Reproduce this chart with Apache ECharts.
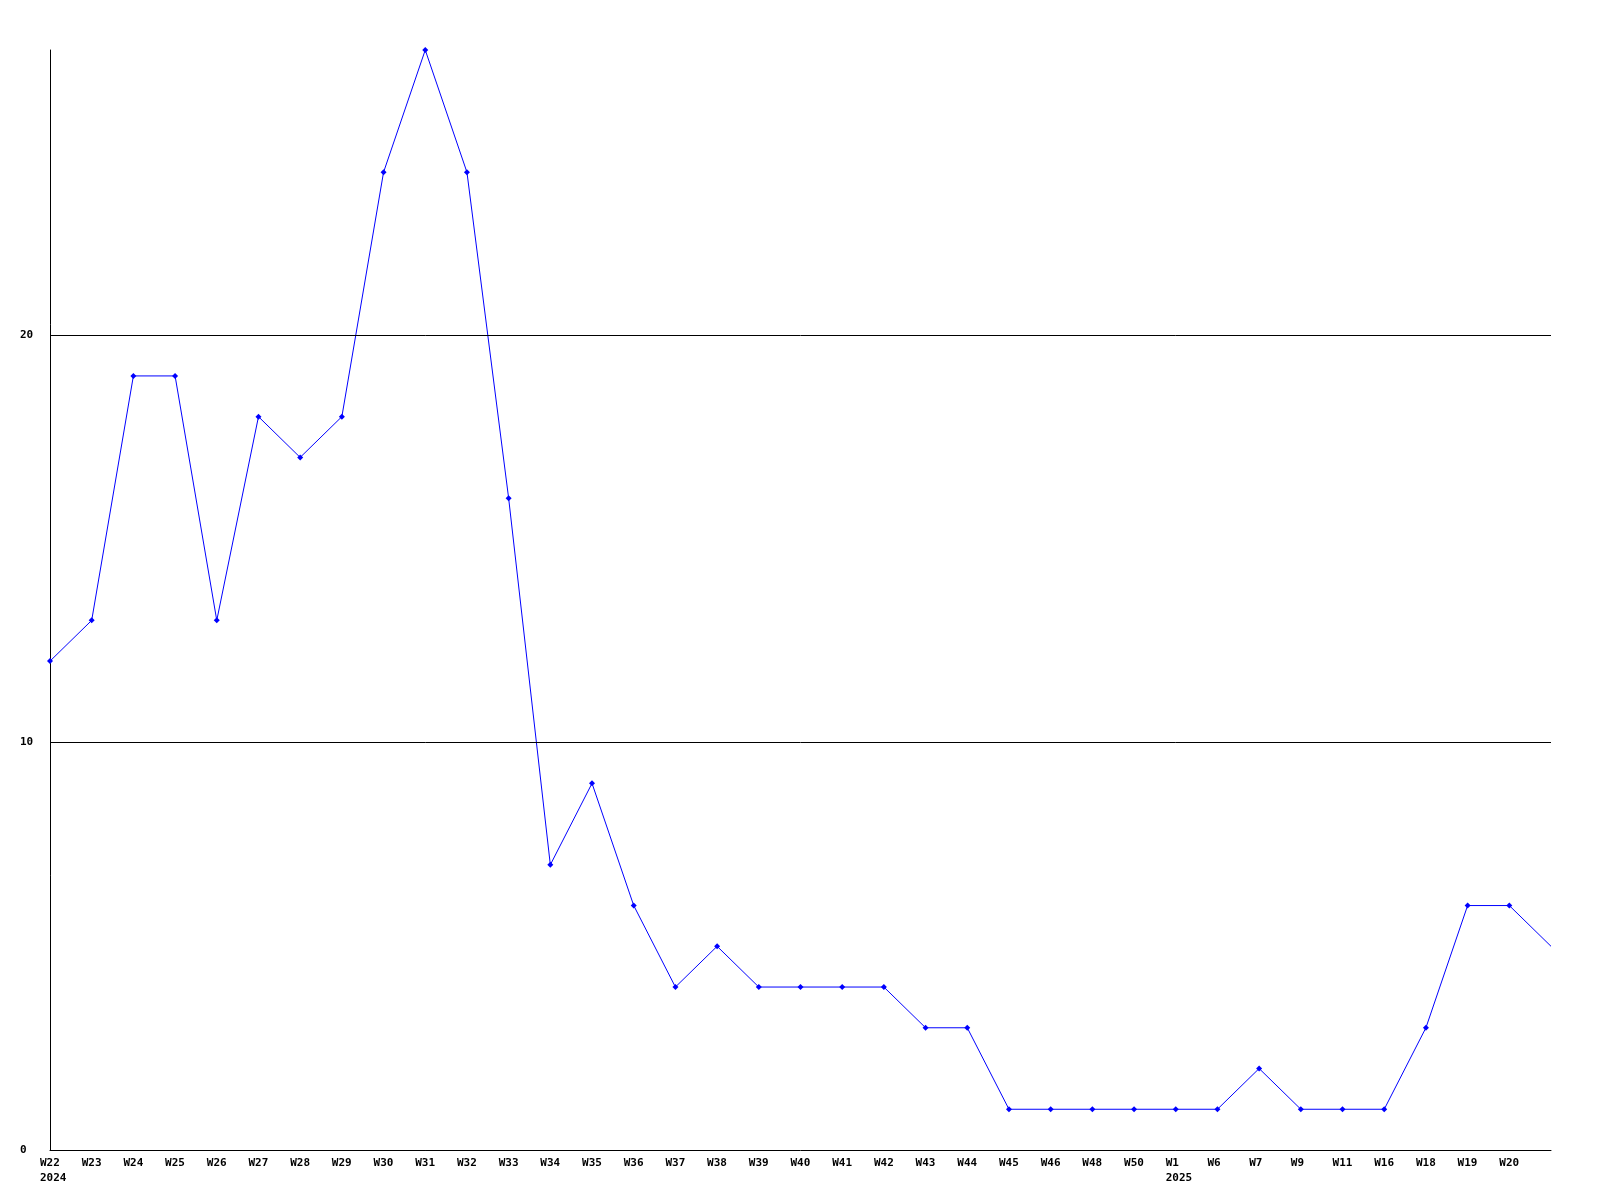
<!DOCTYPE html>
<html><head><meta charset="utf-8">
<script src="https://cdn.jsdelivr.net/npm/echarts@6/dist/echarts.min.js"></script>
<style>html,body{margin:0;padding:0;background:#fff}#c{width:1600px;height:1200px}</style>
</head><body><div id="c"></div>
<script>
const categories = ["W22\n2024","W23","W24","W25","W26","W27","W28","W29","W30","W31","W32","W33","W34","W35","W36","W37","W38","W39","W40","W41","W42","W43","W44","W45","W46","W48","W50","W1\n2025","W6","W7","W9","W11","W16","W18","W19","W20",""];
const values = [12,13,19,19,13,18,17,18,24,27,24,16,7,9,6,4,5,4,4,4,4,3,3,1,1,1,1,1,1,2,1,1,1,3,6,6,5];
const gridValues = [10,20];
const yMax = 27;

const data = values.map((v,i)=> i===values.length-1 ? {value:v, symbol:'none'} : v);
const font = '"DejaVu Sans Mono", "Liberation Mono", monospace';
const chart = echarts.init(document.getElementById('c'));
chart.setOption({
  animation:false,
  backgroundColor:'#fff',
  grid:{left:50, top:50, right:49, bottom:50, containLabel:false},
  xAxis:{type:'category', data:categories, boundaryGap:false,
    axisLine:{lineStyle:{color:'#000', width:1}}, axisTick:{show:false},
    axisLabel:{interval:0, color:'#000', fontFamily:font, fontWeight:'bold', fontSize:11,
      align:'left', padding:[0,0,0,-10], margin:6, lineHeight:15}},
  yAxis:{type:'value', min:0, max:yMax, interval:10,
    axisLine:{show:true, lineStyle:{color:'#000', width:1}}, axisTick:{show:false},
    splitLine:{show:false},
    axisLabel:{color:'#000', fontFamily:font, fontWeight:'bold', fontSize:11, align:'left', margin:30, showMaxLabel:false}},
  series:[{type:'line', data:data, symbol:'diamond', symbolSize:6, showAllSymbol:true,
    lineStyle:{color:'#0000ff', width:1}, itemStyle:{color:'#0000ff'},
    markLine:{silent:true, symbol:'none', label:{show:false},
      lineStyle:{color:'#000', width:1, type:'solid'},
      data:gridValues.map(v=>({yAxis:v}))}}]
});
</script></body></html>
